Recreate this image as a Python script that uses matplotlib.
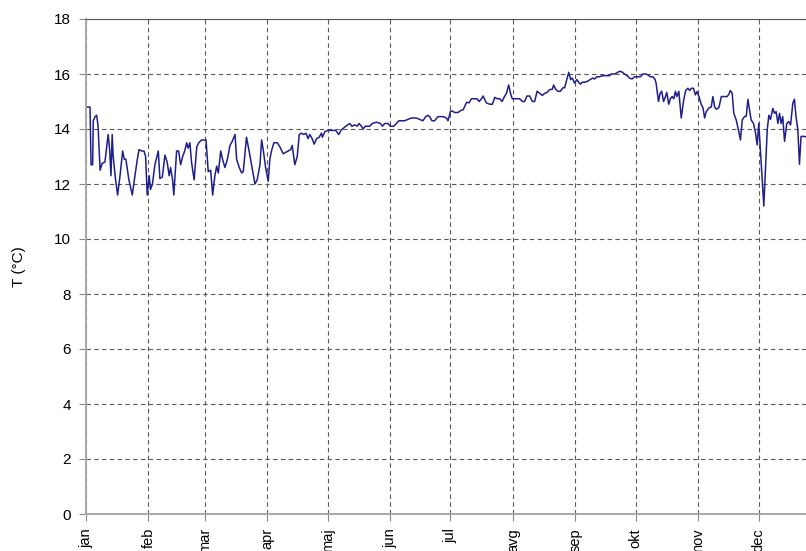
import numpy as np
import matplotlib.pyplot as plt

plt.rcParams['font.family'] = ['Liberation Sans', 'DejaVu Sans']

# month names and first day of each month
months = ["jan", "feb", "mar", "apr", "maj", "jun", "jul", "avg", "sep", "okt", "nov", "dec"]
month_start = [0, 31, 59, 90, 120, 151, 181, 212, 243, 273, 304, 334]

# day of year
days = [0, 2, 2.5, 3.3, 3.6, 4.5, 5.3, 6, 7, 8, 9.4, 11, 11.7, 12.4, 13, 13.5, 14.7, 15.7,
        16.9, 18.2, 19, 19.8, 21.3, 23, 24.3, 25.5, 26.3, 27.6, 28.8, 29.6, 30.4, 31.4,
        32, 33, 34.2, 35.9, 36.7, 37.9, 39.2, 40.3, 41.3, 42, 43, 43.6, 45, 46, 47, 48,
        49, 50, 50.7, 51.6, 52.4, 53.7, 55, 56,
        57.4, 58.5, 59.6, 60.7, 61.9, 62.9, 64, 64.9, 65.7, 66.9, 67.8, 69, 70.2, 71.5,
        72.6, 74, 74.8, 76.1, 77.3, 78.1, 79.7, 81, 82.2, 83.9, 85, 86.4, 87.2, 88, 89.2,
        90.5, 91.3, 92.1, 93.3, 95, 96.3, 97.9, 99.2, 100.4, 101.6, 102.4, 103.7, 104.9,
        105.9, 107, 108.2, 109.2, 110.3, 111.1, 112.3, 113.3, 114.5, 115.8, 116.9, 117.4,
        118.6, 120, 122, 124, 125.5, 126.8, 129, 131, 132, 133.5, 134.6, 135.6, 136.8,
        137.6, 138.7, 140.9, 142.2, 144.2, 146.2, 147.2, 148.3, 150, 151.1, 152.8, 154.1,
        155.4, 156.6, 158.2, 159.9, 161.6, 164, 165.7, 167.3, 168.7, 169.8, 170.6, 171.8,
        173.1, 174.8, 177.3, 179, 179.8,
        181, 182, 183, 184.8, 186, 187.3, 189, 190.2, 191.4, 193, 194.2, 195.2, 196.4,
        197.2, 198.8, 200.5, 201.8, 203, 204.3, 205.5, 206.6, 207.6, 208.8, 209.9, 210.9,
        211.7, 212.9, 215.4, 216.7, 217.8, 219, 220.3, 221.7, 222.8, 224, 225.3, 226.6,
        227.8, 229, 230.2, 231.6, 232.2, 233.2, 234.4, 235.5, 236.9, 237.7, 238.5, 239.7,
        240.7, 241.5, 242.6, 243.8, 244.6, 245.6, 246.4, 247.6, 248.9, 250.4, 251.7, 252.6,
        253.7, 255, 256.7, 258.5, 260, 260.8, 262.5, 263.6, 265, 266.3, 267.4, 268.8,
        269.9, 271.2, 272.4, 274, 275.4, 276.5, 277.8, 279, 280.2, 281.5, 282.6, 283.1,
        284.3, 285.1, 285.9, 286.8, 287.8, 288.4, 289.4, 290.2, 291.1, 291.9, 292.7, 293.4,
        294.4, 295.6, 296.8, 297.8, 298.9, 299.8, 300.6, 301.7, 302.6, 303.4, 304.4, 305.5,
        306.4, 307.2, 308, 309.4, 310.5, 311.3, 312.2, 313, 314.3, 315.5, 317.1, 318.4,
        319.3, 319.9, 320.9, 321.7, 322.9, 324.2, 325, 325.9, 327, 327.9, 328.7, 329.5,
        330.3, 331.5, 332.5, 333.3, 334.1, 335, 335.8, 336.6, 337.4, 338.3, 339.1, 339.9,
        341.1, 341.9, 342.7, 343.6, 344.4, 345.2, 346, 346.9, 348, 349, 349.9, 351, 351.8,
        352.6, 353.5, 354.3, 355.1, 356.8, 358, 360]

# daily sea temperature (deg C)
temps = [14.8, 14.8, 12.7, 12.7, 14.3, 14.45, 14.5, 14.1, 12.5, 12.75, 12.8, 13.8, 13.3,
         12.3, 13.8, 13.0, 12.15, 11.6, 12.3, 13.2, 12.9, 12.9, 12.15, 11.6, 12.3, 12.9,
         13.25, 13.2, 13.2, 13.0, 11.6, 12.3, 11.8, 12.0, 12.7, 13.2, 12.2, 12.25, 13.05,
         12.8, 12.3, 12.6, 12.15, 11.6, 13.2, 13.2, 12.7, 13.0, 13.2, 13.5, 13.3, 13.5,
         12.8, 12.15, 13.35, 13.5,
         13.6, 13.6, 13.6, 12.45, 12.5, 11.6, 12.3, 12.65, 12.4, 13.2, 12.9, 12.6, 12.9,
         13.4, 13.55, 13.8, 12.9, 12.6, 12.4, 12.45, 13.7, 13.2, 12.7, 12.0, 12.15, 12.7,
         13.6, 13.25, 12.6, 12.1, 12.9, 13.2, 13.5, 13.5, 13.35, 13.1, 13.15, 13.2, 13.25,
         13.4, 12.7, 13.0, 13.8, 13.85, 13.8, 13.85, 13.65, 13.8, 13.65, 13.45, 13.65,
         13.7, 13.85, 13.7, 13.9, 13.95, 13.95, 13.95, 13.8, 13.97, 14.1, 14.2, 14.1,
         14.15, 14.1, 14.2, 14.1, 14.0, 14.1, 14.1, 14.2, 14.25, 14.2, 14.1, 14.2, 14.2,
         14.1, 14.1, 14.2, 14.3, 14.3, 14.3, 14.35, 14.4, 14.4, 14.35, 14.3, 14.45, 14.5,
         14.45, 14.3, 14.3, 14.45, 14.45, 14.4, 14.3,
         14.65, 14.65, 14.6, 14.6, 14.67, 14.7, 14.97, 14.95, 15.1, 15.1, 15.1, 15.0,
         15.1, 15.2, 14.95, 14.9, 14.9, 15.15, 15.1, 15.1, 15.0, 15.15, 15.3, 15.6, 15.27,
         15.1, 15.1, 15.1, 15.0, 15.0, 15.2, 15.2, 15.0, 15.0, 15.37, 15.3, 15.22, 15.3,
         15.33, 15.43, 15.45, 15.6, 15.45, 15.37, 15.37, 15.5, 15.5, 15.73, 16.06, 15.8,
         15.85, 15.67, 15.8, 15.7, 15.63, 15.7, 15.7, 15.73, 15.8, 15.85, 15.82, 15.9,
         15.9, 15.94, 15.94, 15.94, 16.0, 16.0, 16.04, 16.1, 16.07, 16.0, 15.94, 15.85,
         15.82, 15.9, 15.9, 15.9, 16.0, 16.0, 15.97, 15.9, 15.9, 15.8, 15.67, 15.0, 15.3,
         15.37, 15.0, 15.18, 15.33, 14.9, 15.1, 15.18, 15.1, 15.37, 15.18, 15.37, 14.4,
         15.05, 15.4, 15.48, 15.4, 15.48, 15.48, 15.24, 15.36, 15.18, 14.9, 14.77, 14.4,
         14.63, 14.77, 14.8, 15.18, 14.8, 14.72, 14.78, 15.18, 15.18, 15.18, 15.27, 15.4,
         15.3, 14.57, 14.33, 13.9, 13.6, 14.33, 14.45, 14.47, 15.08, 14.7, 14.33, 14.2,
         13.85, 13.42, 14.2, 13.12, 12.15, 11.2, 12.5, 13.97, 14.5, 14.35, 14.75, 14.57,
         14.63, 14.2, 14.57, 14.2, 14.45, 13.55, 14.2, 14.27, 14.15, 14.94, 15.08, 14.45,
         13.97, 12.72, 13.73, 13.73, 13.7, 13.7]

fig = plt.figure(figsize=(8.06, 5.51), dpi=100)
ax = fig.add_axes([86 / 806, 37 / 551, 735 / 806, 495 / 551])

ax.plot(days, temps, color="#1f1f8c", lw=1.1)

ax.set_xlim(0, 365)
ax.set_ylim(0, 18)
ax.set_yticks(np.arange(0, 19, 2))
ax.set_xticks(month_start)
ax.set_xticklabels(months, rotation=90, va="top", ha="center")

ax.grid(True, color="#5a5a5a", linestyle=(0, (4, 3)), linewidth=0.8)
ax.set_axisbelow(True)

ax.spines["left"].set_color("#a8a8a8")
ax.spines["left"].set_linewidth(1.4)
ax.spines["bottom"].set_color("#a8a8a8")
ax.spines["bottom"].set_linewidth(1.4)
ax.spines["top"].set_color("#555555")
ax.spines["top"].set_linewidth(0.8)
ax.spines["right"].set_visible(False)

ax.tick_params(axis="y", labelsize=11, length=5, color="#888888", pad=6)
ax.tick_params(axis="x", labelsize=10.5, length=5, color="#888888", pad=5)

ax.set_ylabel("T (°C)", fontsize=11, labelpad=20)

fig.savefig("out.png", dpi=100)
